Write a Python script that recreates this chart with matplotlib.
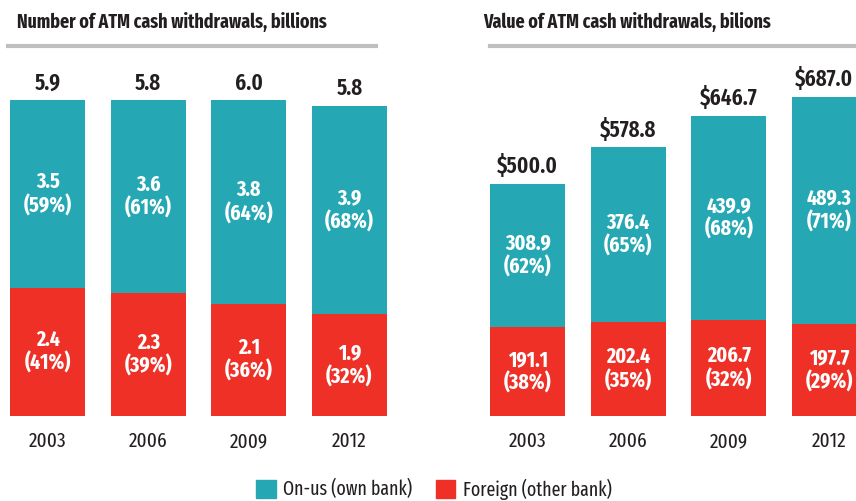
import matplotlib
matplotlib.use("Agg")
import matplotlib.pyplot as plt
from matplotlib.lines import Line2D
from matplotlib.patches import Patch

plt.rcParams['font.family'] = ['Fira Sans Extra Condensed', 'Fira Sans Condensed', 'DejaVu Sans']

years = ["2003", "2006", "2009", "2012"]

# number of withdrawals, billions
count_onus = [3.5, 3.6, 3.8, 3.9]
count_foreign = [2.4, 2.3, 2.1, 1.9]
count_onus_pct = [59, 61, 64, 68]
count_foreign_pct = [41, 39, 36, 32]
count_total = [5.9, 5.8, 6.0, 5.8]

# value of withdrawals, billions $
value_onus = [308.9, 376.4, 439.9, 489.3]
value_foreign = [191.1, 202.4, 206.7, 197.7]
value_onus_pct = [62, 65, 68, 71]
value_foreign_pct = [38, 35, 32, 29]
value_total = [500.0, 578.8, 646.7, 687.0]

TEAL = "#25A7B4"
RED = "#EE3027"
GREY = "#BEBFC1"
TXT = "#231F20"

W, H = 856, 501
fig = plt.figure(figsize=(W / 100, H / 100), dpi=100)


def px_axes(x0, y_top, w, h):
    return fig.add_axes([x0 / W, 1 - (y_top + h) / H, w / W, h / H])


totals = []


def panel(ax, onus, foreign, onus_pct, foreign_pct, total, fmt_total, ymax):
    x = range(len(years))
    ax.bar(x, foreign, width=0.75, color=RED)
    ax.bar(x, onus, width=0.75, bottom=foreign, color=TEAL)
    for i in x:
        ax.text(i, foreign[i] / 2, f"{foreign[i]:.1f}\n({foreign_pct[i]}%)",
                ha="center", va="center", color="white", fontsize=15.5,
                fontweight="bold", linespacing=1.1)
        ax.text(i, foreign[i] + onus[i] / 2, f"{onus[i]:.1f}\n({onus_pct[i]}%)",
                ha="center", va="center", color="white", fontsize=15.5,
                fontweight="bold", linespacing=1.1)
        t = ax.annotate(fmt_total(total[i]), (i, foreign[i] + onus[i]),
                        xytext=(0, 4), textcoords="offset points", ha="center",
                        va="bottom", fontsize=16.5, fontweight="semibold",
                        color=TXT, annotation_clip=False)
        totals.append(t)
    ax.set_xlim(-0.375, 3.375)
    ax.set_ylim(0, ymax)
    ax.set_xticks(list(x))
    ax.set_xticklabels(years, fontsize=15, color=TXT)
    ax.tick_params(axis="x", length=0, pad=11)
    ax.set_yticks([])
    for s in ax.spines.values():
        s.set_visible(False)


ax1 = px_axes(10, 95, 377, 321)
panel(ax1, count_onus, count_foreign, count_onus_pct, count_foreign_pct,
      count_total, lambda v: f"{v:.1f}", 6.0)

ax2 = px_axes(490, 95, 377, 321)
panel(ax2, value_onus, value_foreign, value_onus_pct, value_foreign_pct,
      value_total, lambda v: f"${v:.1f}", 691)

# titles and grey rules
fig.text(17 / W, 1 - 22 / H, "Number of ATM cash withdrawals, billions",
         fontsize=14, fontweight="bold", color=TXT, va="center", ha="left")
fig.text(483 / W, 1 - 22 / H, "Value of ATM cash withdrawals, bilions",
         fontsize=14, fontweight="bold", color=TXT, va="center", ha="left")
fig.add_artist(Line2D([8 / W, 376 / W], [1 - 46 / H] * 2, color=GREY, lw=3))
fig.add_artist(Line2D([490 / W, 1.0], [1 - 46 / H] * 2, color=GREY, lw=3))

handles = [Patch(color=TEAL, label="On-us (own bank)"),
           Patch(color=RED, label="Foreign (other bank)")]
fig.legend(handles=handles, loc="center", bbox_to_anchor=(434 / W, 1 - 489 / H),
           ncol=2, frameon=False, fontsize=14, handlelength=1.0, handleheight=1.0,
           handletextpad=0.4, columnspacing=1.2, labelcolor=TXT)

# keep the right-most total inside the picture
fig.canvas.draw()
r = fig.canvas.get_renderer()
for t in totals:
    bb = t.get_window_extent(r)
    if bb.x1 > W - 3:
        t.set_position((-(bb.x1 - (W - 3)) * 0.72, 4))

fig.savefig("out.png", dpi=100)
